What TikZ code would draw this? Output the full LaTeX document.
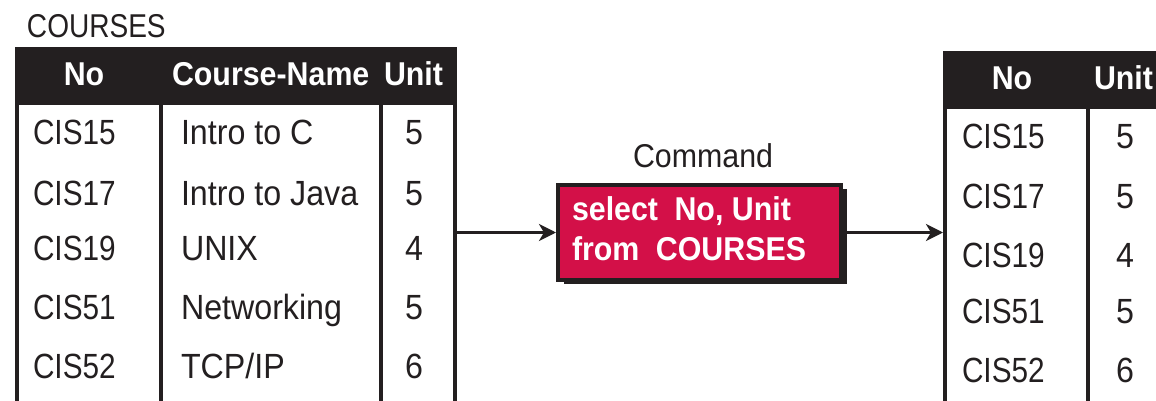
\documentclass[tikz,border=0pt]{standalone}
\usepackage{fontspec}
\setmainfont[FakeStretch=0.92]{Liberation Sans}
\newfontfamily\narrowfont[FakeStretch=0.85]{Liberation Sans}
\usetikzlibrary{arrows.meta,shadows}
\definecolor{ink}{RGB}{35,31,32}
\definecolor{crimson}{RGB}{211,16,72}
\tikzset{
 every node/.style={inner sep=0pt, outer sep=0pt, text=ink},
 cell/.style={anchor=base west, font=\fontsize{35}{40}\selectfont},
 idcell/.style={anchor=base west, font=\fontsize{35}{40}\narrowfont},
 headc/.style={anchor=base, text=white, font=\fontsize{33}{38}\selectfont\bfseries},
 headl/.style={anchor=base west, text=white, font=\fontsize{33}{38}\selectfont\bfseries},
 rule/.style={line width=4pt, draw=ink},
 hdr/.style={fill=ink},
 arr/.style={line width=3pt, draw=ink, -{Stealth[length=17pt,width=17pt,inset=5pt]}},
 cmdbox/.style={draw=ink, line width=4pt, fill=crimson, minimum width=283pt, minimum height=95pt, outer sep=2pt,
   drop shadow={shadow xshift=6pt, shadow yshift=-4pt, fill=ink, opacity=1}},
 cmdtext/.style={anchor=base west, text=white, font=\fontsize{33}{38}\selectfont\bfseries},
 title/.style={anchor=base west, font=\fontsize{33}{38}\selectfont},
 ntitle/.style={anchor=base west, font=\fontsize{33}{38}\narrowfont},
}
\begin{document}
\begin{tikzpicture}[x=1pt,y=-1pt]
\useasboundingbox (0,0) rectangle (1156,401);
\clip (0,0) rectangle (1156,401);
% ---- left table ----
\node[ntitle] (ttl) at (27,38) {COURSES};
\fill[hdr] (15,47) rectangle (457,105);
\foreach \x in {17,160.5,381,455} \draw[rule] (\x,105) -- (\x,402);
\node[headc] (hno) at (84,86) {No};
\node[headl] (hname) at (172,86) {Course-Name};
\node[headl] (hunit) at (384,86) {Unit};
\foreach \i/\y/\no/\nm/\u in {1/145/CIS15/{Intro to C}/5, 2/205/CIS17/{Intro to Java}/5, 3/260/CIS19/{UNIX}/4, 4/319/CIS51/{Networking}/5, 5/378/CIS52/{TCP/IP}/6}{
  \node[idcell] (lno\i) at (33,\y) {\no};
  \node[cell] (lnm\i) at (181,\y) {\nm};
  \node[cell] (lu\i) at (405,\y) {\u};
}
% ---- right table ----
\fill[hdr] (943,51) rectangle (1160,109);
\foreach \x in {944.5,1088} \draw[rule] (\x,109) -- (\x,402);
\node[headc] (rhno) at (1012,90) {No};
\node[headl] (rhunit) at (1094,90) {Unit};
\foreach \i/\y/\no/\u in {1/149/CIS15/5, 2/208/CIS17/5, 3/267/CIS19/4, 4/323/CIS51/5, 5/382/CIS52/6}{
  \node[idcell] (rno\i) at (962,\y) {\no};
  \node[cell] (ru\i) at (1116,\y) {\u};
}
% ---- command ----
\node[title] (cmdlbl) at (633,167) {Command};
\node[cmdbox] (cmd) at (699.5,232.5) {};
\node[cmdtext] (cmd1) at (572,220) {select\hspace{0.5em}No, Unit};
\node[cmdtext] (cmd2) at (572,260) {from\hspace{0.5em}COURSES};
\coordinate (tl) at (457,232.5);
\coordinate (tr) at (943,232.5);
\draw[arr] (tl) -- (cmd.west);
\draw[arr] (cmd.east) -- (tr);
\end{tikzpicture}
\end{document}
